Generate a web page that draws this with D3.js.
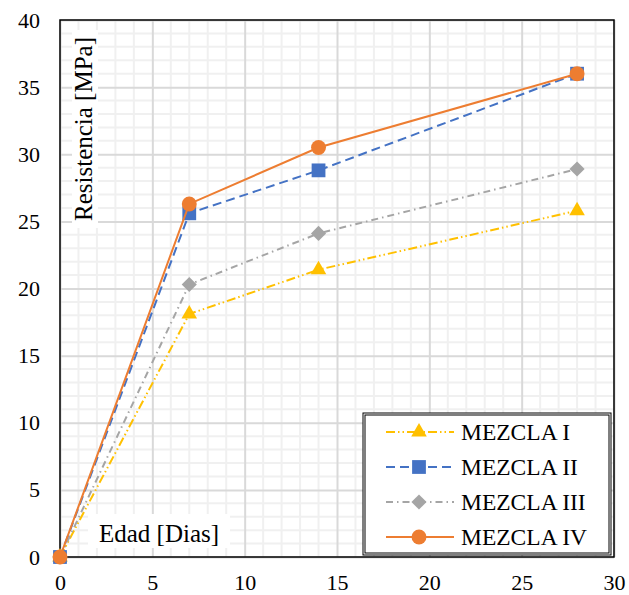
<!DOCTYPE html>
<html>
<head>
<meta charset="utf-8">
<script src="https://cdn.jsdelivr.net/npm/d3@7"></script>
<style>
  body { margin: 0; background: #fff; }
  svg text { font-family: "Liberation Serif", Tinos, "Times New Roman", Times, "Noto Serif", "DejaVu Serif", serif !important; fill: #000; }
</style>
</head>
<body>
<div id="chart"></div>
<script>
// edad [dias]
const dias = [0, 7, 14, 28];
const mezclaI   = [0, 18.1, 21.4, 25.8];
const mezclaII  = [0, 25.6, 28.8, 36.0];
const mezclaIII = [0, 20.3, 24.1, 28.9];
const mezclaIV  = [0, 26.3, 30.5, 36.0];
const xTicks = [0, 5, 10, 15, 20, 25, 30];
const yTicks = [0, 5, 10, 15, 20, 25, 30, 35, 40];

const WIDTH = 629, HEIGHT = 595;
const pLeft = 60, pTop = 20, pRight = 614, pBottom = 557;

const svg = d3.select("#chart").append("svg")
    .attr("width", WIDTH)
    .attr("height", HEIGHT);

const x = d3.scaleLinear().domain([0, 30]).range([pLeft, pRight]);
const y = d3.scaleLinear().domain([0, 40]).range([pBottom, pTop]);

// minor grid (every 1)
svg.append("g")
    .selectAll("line")
    .data(d3.range(1, 30).filter(d => d % 5 != 0))
    .join("line")
      .attr("x1", d => x(d)).attr("x2", d => x(d))
      .attr("y1", pTop).attr("y2", pBottom)
      .attr("stroke", "#f0f0f0").attr("stroke-width", 2);
svg.append("g")
    .selectAll("line")
    .data(d3.range(1, 40).filter(d => d % 5 != 0))
    .join("line")
      .attr("x1", pLeft).attr("x2", pRight)
      .attr("y1", d => y(d)).attr("y2", d => y(d))
      .attr("stroke", "#f0f0f0").attr("stroke-width", 2);

// major grid
svg.append("g")
    .attr("transform", `translate(0, ${pBottom})`)
    .call(d3.axisBottom(x).tickValues(xTicks).tickSize(-(pBottom - pTop)).tickFormat(""))
    .call(g => g.select(".domain").remove())
    .selectAll("line").attr("stroke", "#d9d9d9").attr("stroke-width", 2);
svg.append("g")
    .attr("transform", `translate(${pLeft}, 0)`)
    .call(d3.axisLeft(y).tickValues(yTicks).tickSize(-(pRight - pLeft)).tickFormat(""))
    .call(g => g.select(".domain").remove())
    .selectAll("line").attr("stroke", "#d9d9d9").attr("stroke-width", 2);

// tick labels
svg.append("g")
    .attr("transform", `translate(0, ${pBottom})`)
    .call(d3.axisBottom(x).tickValues(xTicks).tickSize(0).tickPadding(17))
    .call(g => g.select(".domain").remove())
    .selectAll("text").attr("font-size", 22).attr("fill", "#000");
svg.append("g")
    .attr("transform", `translate(${pLeft}, 0)`)
    .call(d3.axisLeft(y).tickValues(yTicks).tickSize(0).tickPadding(20))
    .call(g => g.select(".domain").remove())
    .selectAll("text").attr("font-size", 22).attr("fill", "#000");

// frame
svg.append("rect")
    .attr("x", pLeft).attr("y", pTop)
    .attr("width", pRight - pLeft).attr("height", pBottom - pTop)
    .attr("fill", "none").attr("stroke", "#000").attr("stroke-width", 1.5);

// axis titles (inside plot, white boxes)
svg.append("rect").attr("x", 72).attr("y", 30).attr("width", 26).attr("height", 198).attr("fill", "#fff");
svg.append("text")
    .attr("transform", `translate(92, 129) rotate(-90)`)
    .attr("text-anchor", "middle")
    .attr("font-size", 25)
    .text("Resistencia [MPa]");
svg.append("rect").attr("x", 88).attr("y", 514).attr("width", 142).attr("height", 34).attr("fill", "#fff");
svg.append("text")
    .attr("x", 159).attr("y", 542)
    .attr("text-anchor", "middle")
    .attr("font-size", 25)
    .text("Edad [Dias]");

const series = [
    { name: "MEZCLA I",   values: mezclaI,   color: "#FFC000", dash: "9,3,1.5,3,1.5,3", marker: "triangle" },
    { name: "MEZCLA II",  values: mezclaII,  color: "#4472C4", dash: "9,5",             marker: "square" },
    { name: "MEZCLA III", values: mezclaIII, color: "#A5A5A5", dash: "7,4,1.5,4",       marker: "diamond" },
    { name: "MEZCLA IV",  values: mezclaIV,  color: "#ED7D31", dash: null,              marker: "circle" }
];

const symbolOf = {
    triangle: { d: d3.symbol().type(d3.symbolTriangle).size(105)(), rot: 0 },
    square:   { d: d3.symbol().type(d3.symbolSquare).size(190)(), rot: 0 },
    diamond:  { d: d3.symbol().type(d3.symbolSquare).size(115)(), rot: 45 },
    circle:   { d: d3.symbol().type(d3.symbolCircle).size(175)(), rot: 0 }
};

const line = d3.line().x(d => x(d[0])).y(d => y(d[1]));

series.forEach(s => {
    const pts = dias.map((d, i) => [d, s.values[i]]);
    const sym = symbolOf[s.marker];
    const g = svg.append("g");
    g.append("path")
        .datum(pts)
        .attr("d", line)
        .attr("fill", "none")
        .attr("stroke", s.color)
        .attr("stroke-width", 2)
        .attr("stroke-dasharray", s.dash);
    g.selectAll("path.m")
        .data(pts)
        .join("path")
          .attr("class", "m")
          .attr("transform", d => `translate(${x(d[0])}, ${y(d[1])}) rotate(${sym.rot})`)
          .attr("d", sym.d)
          .attr("fill", s.color);
});

// legend
const lg = svg.append("g");
lg.append("rect").attr("x", 363).attr("y", 413).attr("width", 248).attr("height", 142)
    .attr("fill", "#fff").attr("stroke", "#000").attr("stroke-width", 1);
lg.append("rect").attr("x", 365).attr("y", 415).attr("width", 244).attr("height", 138)
    .attr("fill", "none").attr("stroke", "#000").attr("stroke-width", 1);
series.forEach((s, i) => {
    const cy = 432 + i * 35;
    const sym = symbolOf[s.marker];
    lg.append("line")
        .attr("x1", 386).attr("x2", 454).attr("y1", cy).attr("y2", cy)
        .attr("stroke", s.color).attr("stroke-width", 2)
        .attr("stroke-dasharray", s.dash);
    lg.append("path")
        .attr("transform", `translate(419, ${cy}) rotate(${sym.rot})`)
        .attr("d", sym.d)
        .attr("fill", s.color);
    lg.append("text")
        .attr("x", 461).attr("y", cy + 8)
        .attr("font-size", 23.5)
        .text(s.name);
});
</script>
</body>
</html>
